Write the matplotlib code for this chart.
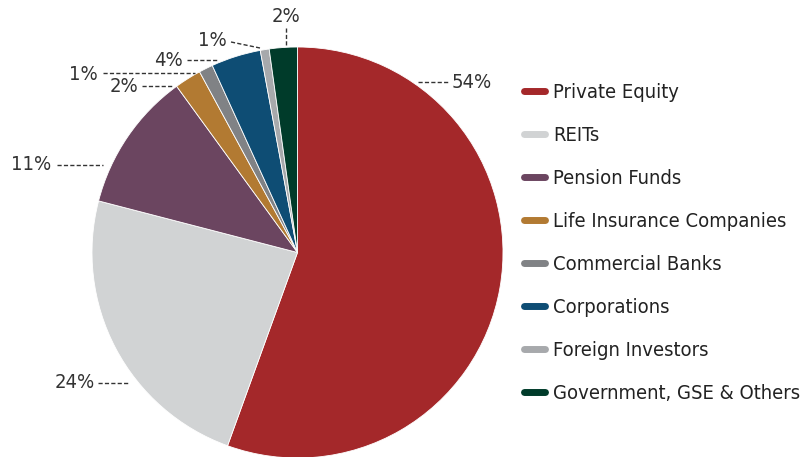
import matplotlib.pyplot as plt
from matplotlib.lines import Line2D
from matplotlib import font_manager

# Datos del gráfico (tamaño de las porciones)
categorias = ["Private Equity", "REITs", "Pension Funds", "Life Insurance Companies",
              "Commercial Banks", "Corporations", "Foreign Investors",
              "Government, GSE & Others"]
valores = [55.5, 23.5, 10.95, 2.1, 1.1, 3.9, 0.7, 2.2]
etiquetas = ["54%", "24%", "11%", "2%", "1%", "4%", "1%", "2%"]
colores = ["#a4282a", "#d1d3d4", "#6b4560", "#b27a32",
           "#808285", "#0e4d74", "#a7a9ac", "#003b2a"]

# Buscamos una fuente angosta parecida a la original
prop = None
for f in font_manager.fontManager.ttflist:
    if f.name == "Liberation Sans Narrow" and f.weight in (400, "normal") and f.style == "normal":
        prop = font_manager.FontProperties(fname=f.fname)
        break
if prop is None:
    for f in font_manager.fontManager.ttflist:
        if f.fname.endswith("DejaVuSansCondensed.ttf"):
            prop = font_manager.FontProperties(fname=f.fname)
            break
if prop is None:
    prop = font_manager.FontProperties(family="DejaVu Sans", stretch="condensed")
prop.set_size(14.5)

W, H = 807, 457
fig = plt.figure(figsize=(W / 100, H / 100), dpi=100)

# Centro y radio de la torta en pixeles
cx, cy, r = 297.5, 252.5, 205.5
ax = fig.add_axes([(cx - r) / W, (H - cy - r) / H, 2 * r / W, 2 * r / H])

wedges, _ = ax.pie(valores, colors=colores, startangle=90, counterclock=False,
                   radius=1, center=(0, 0), frame=True,
                   wedgeprops=dict(edgecolor="white", linewidth=0.6))
ax.set_xlim(-1, 1)
ax.set_ylim(-1, 1)
ax.axis("off")


def px(x, y):
    # pixeles de la imagen -> coordenadas del eje
    return (x - cx) / r, (cy - y) / r


# Posición de cada etiqueta: texto (x, y, alineación) y línea guía
pos_texto = [(452, 82, "left"), (95, 383, "right"), (51, 165, "right"),
             (138, 86, "right"), (98, 74, "right"), (183, 60, "right"),
             (227, 40, "right"), (286, 16, "center")]
guias = [((418, 82), (448, 82)), ((98, 383), (129, 383)), ((57, 165), (103, 165)),
         ((142, 86), (173, 86)), ((103, 73), (195, 73)), ((187, 60), (217, 60)),
         ((231, 42), (260, 48)), ((286, 28), (286, 46))]

for txt, (tx, ty, ha), (p0, p1) in zip(etiquetas, pos_texto, guias):
    x0, y0 = px(*p0)
    x1, y1 = px(*p1)
    ax.plot([x0, x1], [y0, y1], color="#333333", lw=1.0, ls=(0, (3, 1.6)),
            clip_on=False)
    xt, yt = px(tx, ty)
    ax.text(xt, yt, txt, ha=ha, va="center", fontproperties=prop, color="#333333",
            clip_on=False)

# Leyenda
manijas = [Line2D([0], [0], color=c, lw=5, solid_capstyle="round") for c in colores]
fig.legend(manijas, categorias, loc="upper left",
           bbox_to_anchor=(506 / W, 1 - 65 / H), frameon=False,
           prop=prop, handlelength=1.05, handletextpad=0.4,
           labelspacing=1.19, labelcolor="#222222")

fig.savefig("out.png", dpi=100)
